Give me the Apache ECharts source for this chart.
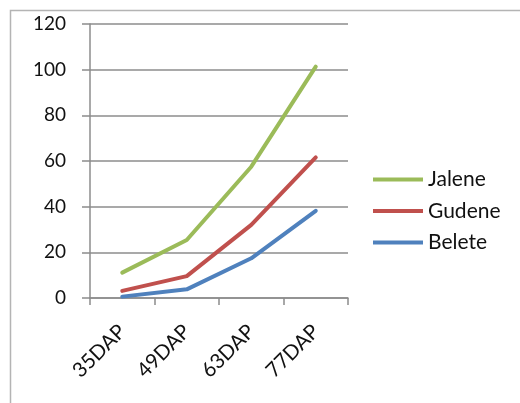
<!DOCTYPE html>
<html>
<head>
<meta charset="utf-8">
<style>
  html, body { margin: 0; padding: 0; background: #ffffff; }
  #chart { width: 520px; height: 403px; }
</style>
<script src="https://cdn.jsdelivr.net/npm/echarts@6/dist/echarts.min.js"></script>
</head>
<body>
<div id="chart"></div>
<script>
// Growth stages (days after planting)
const stages = ['35DAP', '49DAP', '63DAP', '77DAP'];

// One value per stage for each variety
const jalene = [11.1, 25.4, 57.5, 101.3];
const gudene = [3.1, 9.6, 32.0, 61.6];
const belete = [0.6, 3.8, 17.4, 38.2];

const yTicks = { min: 0, max: 120, step: 20 };

const seriesNames = ['Jalene', 'Gudene', 'Belete'];
const seriesColors = ['#9BBB59', '#C0504D', '#4F81BD'];
const seriesValues = [jalene, gudene, belete];

const font = 'Lato, "Open Sans", sans-serif';
const textColor = '#111111';
const gridColor = '#8c8c8c';

const chart = echarts.init(document.getElementById('chart'), null, { renderer: 'canvas' });

chart.setOption({
  animation: false,
  backgroundColor: '#ffffff',
  graphic: [{
    type: 'rect',
    silent: true,
    shape: { x: 10.5, y: 10.5, width: 700, height: 600 },
    style: { fill: 'none', stroke: '#b4b4b4', lineWidth: 1.5 }
  }],
  grid: { left: 90, right: 172, top: 24, bottom: 105, containLabel: false },
  legend: {
    orient: 'vertical',
    left: 373,
    top: 169,
    padding: 0,
    itemWidth: 50,
    itemHeight: 4,
    itemGap: 10.5,
    icon: 'rect',
    textStyle: { fontFamily: font, fontSize: 21, color: textColor },
    data: seriesNames
  },
  xAxis: {
    type: 'category',
    data: stages,
    boundaryGap: true,
    axisLine: { show: true, lineStyle: { color: gridColor, width: 1.5 } },
    axisTick: { show: true, length: 7, inside: false, lineStyle: { color: gridColor, width: 1.5 } },
    axisLabel: {
      rotate: 45,
      margin: 30,
      fontFamily: font,
      fontSize: 20.5,
      color: textColor
    },
    splitLine: { show: false }
  },
  yAxis: {
    type: 'value',
    min: yTicks.min,
    max: yTicks.max,
    interval: yTicks.step,
    axisLine: { show: true, lineStyle: { color: gridColor, width: 1.5 } },
    axisTick: { show: true, length: 8, inside: false, lineStyle: { color: gridColor, width: 1.5 } },
    axisLabel: { margin: 24, fontFamily: font, fontSize: 19, color: textColor },
    splitLine: { show: true, lineStyle: { color: gridColor, width: 1.5 } }
  },
  series: seriesNames.map((name, i) => ({
    name,
    type: 'line',
    data: seriesValues[i],
    symbol: 'none',
    smooth: false,
    color: seriesColors[i],
    lineStyle: { width: 4, color: seriesColors[i], cap: 'round', join: 'round' }
  }))
});
</script>
</body>
</html>
